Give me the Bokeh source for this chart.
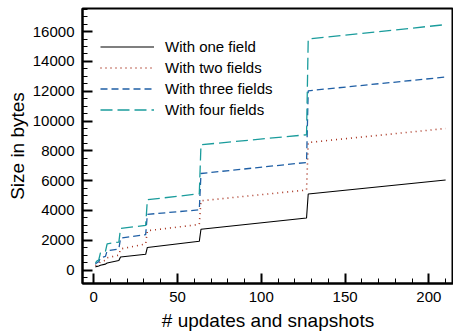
from bokeh.plotting import figure
from bokeh.models import SingleIntervalTicker, Range1d, Legend, LegendItem
from bokeh.embed import file_html
from bokeh.resources import INLINE

# x positions of the breakpoints (# updates and snapshots)
updates = [1, 2, 3, 4, 7, 8, 15, 16, 31, 32, 63, 64, 127, 128, 210]
# sizes in bytes
one_field = [200, 250, 280, 330, 400, 480, 640, 880, 1060, 1520, 1930, 2740, 3490, 5100, 6040]
two_fields = [300, 380, 430, 560, 650, 830, 1000, 1420, 1750, 2640, 3060, 4650, 5370, 8560, 9500]
three_fields = [400, 500, 560, 820, 920, 1290, 1420, 2150, 2380, 3740, 4040, 6480, 7220, 12030, 12950]
four_fields = [480, 620, 680, 1150, 1250, 1760, 1880, 2800, 3000, 4720, 5120, 8410, 9080, 15500, 16470]

series_names = ["With one field", "With two fields", "With three fields", "With four fields"]

FONT = "Liberation Sans"

p = figure(frame_width=371, frame_height=275, output_backend="svg", toolbar_location=None,
           x_range=Range1d(-6.7, 214.7), y_range=Range1d(-900, 17550),
           min_border_left=82, min_border_right=0, min_border_top=8, min_border_bottom=20)
p.background_fill_color = "white"
p.border_fill_color = "white"
p.outline_line_color = "black"
p.outline_line_width = 2
p.xgrid.visible = False
p.ygrid.visible = False

r1 = p.line(updates, one_field, line_color="black", line_width=1.1)
r2 = p.line(updates, two_fields, line_color="#a8321f", line_width=1.6, line_dash="1 4")
r3 = p.line(updates, three_fields, line_color="#1f5fa5", line_width=1.3, line_dash="7 4")
r4 = p.line(updates, four_fields, line_color="#1a9c9c", line_width=1.3, line_dash="12 5")

legend = Legend(items=[LegendItem(label=n, renderers=[r]) for n, r in zip(series_names, [r1, r2, r3, r4])],
                location=(18, 163), border_line_color=None, background_fill_alpha=0,
                padding=0, margin=0, spacing=0, glyph_width=54, glyph_height=21,
                label_height=21, label_standoff=11,
                label_text_font=FONT, label_text_font_size="15px", label_text_color="black")
p.add_layout(legend)

for ax in (p.xaxis[0], p.yaxis[0]):
    ax.axis_line_width = 2
    ax.axis_line_color = "black"
    ax.major_tick_in = 10
    ax.major_tick_out = 0
    ax.minor_tick_in = 5
    ax.minor_tick_out = 0
    ax.major_tick_line_width = 2
    ax.minor_tick_line_width = 1
    ax.major_label_text_font = FONT
    ax.major_label_text_font_size = "15px"
    ax.major_label_text_color = "black"
    ax.axis_label_text_font = FONT
    ax.axis_label_text_font_size = "19px"
    ax.axis_label_text_font_style = "normal"
    ax.axis_label_text_color = "black"

p.xaxis.ticker = SingleIntervalTicker(interval=50, num_minor_ticks=5)
p.yaxis.ticker = SingleIntervalTicker(interval=2000, num_minor_ticks=4)
p.xaxis.axis_label = "# updates and snapshots"
p.yaxis.axis_label = "Size in bytes"
p.xaxis.major_label_standoff = 8
p.yaxis.major_label_standoff = 8
p.xaxis.axis_label_standoff = 5
p.yaxis.axis_label_standoff = 2

open("out.html", "w").write(file_html(p, INLINE))
